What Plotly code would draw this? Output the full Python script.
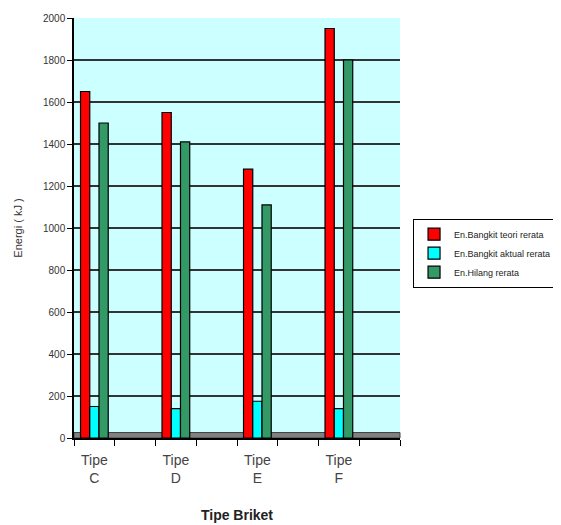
import plotly.graph_objects as go

categories = ["Tipe<br>C", "Tipe<br>D", "Tipe<br>E", "Tipe<br>F"]
axis_slots = ["Tipe<br>C", " ", "Tipe<br>D", "  ", "Tipe<br>E", "   ", "Tipe<br>F", "    "]
teori = [1650, 1550, 1280, 1950]
aktual = [150, 140, 175, 140]
hilang = [1500, 1410, 1110, 1800]
series_names = ["En.Bangkit teori rerata", "En.Bangkit aktual rerata", "En.Hilang rerata"]
colors = ["#FF0000", "#00FFFF", "#339966"]
y_ticks = [0, 200, 400, 600, 800, 1000, 1200, 1400, 1600, 1800, 2000]

fig = go.Figure()
for name, vals, col in zip(series_names, [teori, aktual, hilang], colors):
    fig.add_trace(go.Bar(x=categories, y=vals, name=name,
                         marker=dict(color=col, line=dict(color="#000000", width=1.2))))

# invisible trace so every axis slot (including the empty ones) exists
fig.add_trace(go.Scatter(x=axis_slots, y=[None] * len(axis_slots), mode="markers",
                         showlegend=False, hoverinfo="skip"))

fig.add_shape(type="rect", xref="paper", yref="y", x0=0, x1=1, y0=0, y1=26,
              fillcolor="#808080", line=dict(color="#404040", width=1), layer="below")

fig.update_layout(
    width=553, height=517,
    margin=dict(l=66, r=161, t=10, b=87, autoexpand=False),
    paper_bgcolor="#FFFFFF",
    plot_bgcolor="#CCFFFF",
    barmode="group",
    bargap=0.32, bargroupgap=0.0,
    font=dict(family="Liberation Sans, Arial, sans-serif", color="#333333"),
    xaxis=dict(categoryorder="array", categoryarray=axis_slots,
               range=[-0.5, 7.5], automargin=False,
               tickson="boundaries", ticks="outside", ticklen=6, tickcolor="#000000",
               showline=True, linecolor="#000000", linewidth=1.5,
               tickfont=dict(size=14, color="#444444"), ticklabelstandoff=8,
               title=dict(text="<b>Tipe Briket</b>", font=dict(size=14, color="#222222"), standoff=25),
               showgrid=False),
    yaxis=dict(range=[0, 2000], tickvals=y_ticks, ticks="outside", ticklen=5,
               automargin=False,
               tickcolor="#000000", showline=True, linecolor="#000000", linewidth=1.5,
               tickfont=dict(size=10, color="#333333"),
               showgrid=True, gridcolor="#333333", gridwidth=1.5, zeroline=False,
               title=dict(text="Energi ( kJ )", font=dict(size=11, color="#333333"), standoff=18)),
    legend=dict(x=1.04, y=0.44, xanchor="left", yanchor="middle",
                bgcolor="#FFFFFF", bordercolor="#000000", borderwidth=1,
                font=dict(size=9, color="#222222"), itemwidth=30,
                tracegroupgap=0),
)

fig.write_html("out.html")
